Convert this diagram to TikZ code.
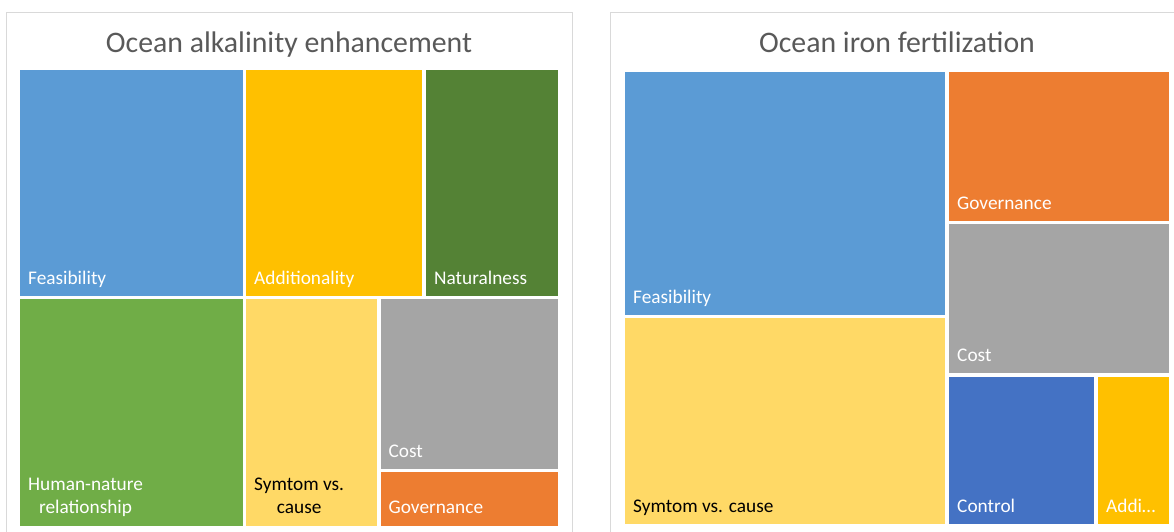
\documentclass[tikz,border=0pt]{standalone}
\usepackage{fontspec}
\setmainfont{Carlito}
\usetikzlibrary{positioning}

\definecolor{feasblue}{HTML}{5B9BD5}
\definecolor{addgold}{HTML}{FFC000}
\definecolor{natgreen}{HTML}{548235}
\definecolor{humgreen}{HTML}{70AD47}
\definecolor{symyellow}{HTML}{FFD966}
\definecolor{costgray}{HTML}{A5A5A5}
\definecolor{govorange}{HTML}{ED7D31}
\definecolor{ctrlblue}{HTML}{4472C4}
\definecolor{titlegray}{HTML}{595959}
\definecolor{framegray}{HTML}{D9D9D9}

\tikzstyle{tile} = [rectangle, draw=none, inner sep=0pt, outer sep=0pt, anchor=north west]
\tikzstyle{lbl} = [inner sep=0pt, anchor=base west, text=white, align=center, font=\fontsize{19.3}{23.5}\selectfont, xshift=8pt, yshift=12pt]
\tikzstyle{ttl} = [inner sep=0pt, anchor=base, text=titlegray, font=\fontsize{29.8}{34}\selectfont]
\tikzstyle{panel} = [draw=framegray, line width=1pt]

\begin{document}
\begin{tikzpicture}[x=1pt, y=-1pt]

\useasboundingbox (0,0) rectangle (1174,531);

% panel frames
\draw[panel] (6,12) rectangle (572,545);
\draw[panel] (610.5,12) rectangle (1195,545);

% left treemap
\node (titleoae) [ttl] at (289,52) {Ocean alkalinity enhancement};

\node (feas) [tile, fill=feasblue, minimum width=223pt, minimum height=226pt] at (20,70) {};
\node (addit) [tile, fill=addgold, minimum width=176pt, minimum height=226pt] at (246,70) {};
\node (natur) [tile, fill=natgreen, minimum width=132pt, minimum height=226pt] at (426,70) {};
\node (human) [tile, fill=humgreen, minimum width=223pt, minimum height=226.5pt] at (20,299) {};
\node (symtom) [tile, fill=symyellow, minimum width=131pt, minimum height=226.5pt] at (246,299) {};
\node (cost) [tile, fill=costgray, minimum width=177.5pt, minimum height=170pt] at (380.5,299) {};
\node (gov) [tile, fill=govorange, minimum width=177.5pt, minimum height=53.5pt] at (380.5,472) {};

\node (labelfeas) [lbl] at (feas.south west) {Feasibility};
\node (labeladdit) [lbl] at (addit.south west) {Additionality};
\node (labelnatur) [lbl] at (natur.south west) {Naturalness};
\node (labelhuman) [lbl] at (human.south west) {Human-nature\\relationship};
\node (labelsymtom) [lbl, text=black] at (symtom.south west) {Symtom vs.\\cause};
\node (labelcost) [lbl] at (cost.south west) {Cost};
\node (labelgov) [lbl] at (gov.south west) {Governance};

% right treemap
\node (titleoif) [ttl] at (897,52) {Ocean iron fertilization};

\node (feasb) [tile, fill=feasblue, minimum width=320pt, minimum height=243pt] at (625,72) {};
\node (symtomb) [tile, fill=symyellow, minimum width=320pt, minimum height=206pt] at (625,318) {};
\node (govb) [tile, fill=govorange, minimum width=220pt, minimum height=149pt] at (949,72) {};
\node (costb) [tile, fill=costgray, minimum width=220pt, minimum height=149pt] at (949,224) {};
\node (control) [tile, fill=ctrlblue, minimum width=145pt, minimum height=147pt] at (949,377) {};
\node (addib) [tile, fill=addgold, minimum width=71pt, minimum height=147pt] at (1098,377) {};

\node (labelfeasb) [lbl] at (feasb.south west) {Feasibility};
\node (labelsymtomb) [lbl, text=black] at (symtomb.south west) {Symtom vs. cause};
\node (labelgovb) [lbl] at (govb.south west) {Governance};
\node (labelcostb) [lbl] at (costb.south west) {Cost};
\node (labelcontrol) [lbl] at (control.south west) {Control};
\node (labeladdib) [lbl] at (addib.south west) {Addi…};

\end{tikzpicture}
\end{document}
